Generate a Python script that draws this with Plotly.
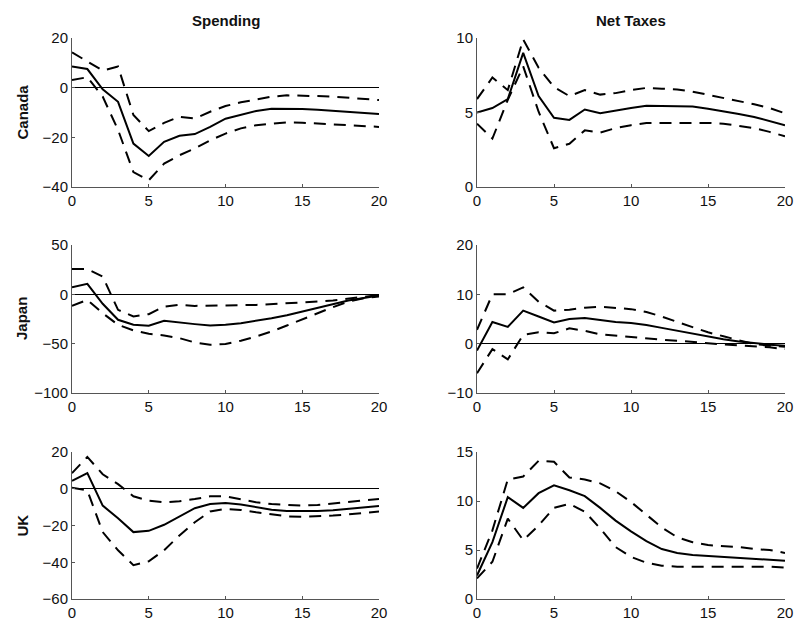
import plotly.graph_objects as go

W, H = 795, 621
horizon = list(range(21))

# Canada - Spending
ca_sp_mid = [8.5, 7.5, -0.7, -5.7, -22.5, -27.5, -21.8, -19.4, -18.7, -15.8, -12.5, -10.8, -9.4, -8.5, -8.4, -8.6, -8.9, -9.3, -9.8, -10.4, -10.6]
ca_sp_up = [14.2, 10.5, 6.9, 8.5, -11.0, -17.5, -14.2, -11.7, -12.4, -9.7, -7.4, -5.9, -4.7, -3.6, -3.1, -3.1, -3.4, -3.6, -4.0, -4.4, -5.0]
ca_sp_lo = [3.1, 4.2, -3.6, -17.0, -34.0, -37.3, -30.6, -27.2, -24.5, -21.2, -18.5, -16.4, -15.1, -14.4, -14.0, -14.1, -14.4, -14.8, -15.2, -15.5, -15.8]
# Canada - Net Taxes
ca_tx_mid = [5.0, 5.3, 5.9, 9.0, 6.1, 4.65, 4.5, 5.2, 4.95, 5.1, 5.3, 5.45, 5.45, 5.45, 5.4, 5.25, 5.1, 4.9, 4.7, 4.45, 4.15]
ca_tx_up = [5.9, 7.35, 6.5, 9.9, 8.0, 6.7, 6.1, 6.5, 6.2, 6.3, 6.5, 6.65, 6.6, 6.55, 6.4, 6.2, 6.0, 5.8, 5.55, 5.3, 4.95]
ca_tx_lo = [4.25, 3.25, 5.85, 8.1, 5.05, 2.6, 2.9, 3.8, 3.65, 3.95, 4.15, 4.3, 4.3, 4.3, 4.35, 4.3, 4.25, 4.1, 3.95, 3.7, 3.4]
# Japan - Spending
jp_sp_mid = [7.2, 10.6, -9.6, -25.8, -30.9, -31.9, -26.9, -28.2, -30.2, -31.6, -30.9, -29.2, -26.9, -24.2, -21.1, -17.4, -13.7, -9.7, -6.3, -3.6, -1.2]
jp_sp_up = [25.7, 25.7, 18.0, -15.7, -22.4, -20.1, -12.4, -10.7, -11.7, -11.7, -11.4, -11.0, -10.7, -10.0, -9.3, -8.3, -7.3, -6.3, -4.6, -2.3, -0.6]
jp_sp_lo = [-11.7, -5.6, -19.1, -30.9, -36.6, -40.0, -41.7, -44.4, -48.8, -51.1, -50.4, -47.0, -42.7, -37.6, -31.6, -25.2, -19.1, -13.0, -7.3, -3.9, -2.3]
# Japan - Net Taxes
jp_tx_mid = [-1.4, 4.4, 3.4, 6.7, 5.5, 4.3, 5.0, 5.2, 4.8, 4.4, 4.2, 3.8, 3.2, 2.6, 2.0, 1.4, 0.9, 0.45, 0.05, -0.2, -0.4]
jp_tx_up = [2.8, 10.0, 10.0, 11.4, 8.5, 6.7, 6.9, 7.3, 7.5, 7.3, 7.0, 6.4, 5.5, 4.4, 3.4, 2.3, 1.5, 0.65, -0.1, -0.4, -0.6]
jp_tx_lo = [-6.0, -1.1, -3.2, 1.8, 2.3, 2.1, 3.1, 2.6, 1.9, 1.6, 1.3, 1.05, 0.8, 0.6, 0.4, 0.1, -0.15, -0.35, -0.55, -0.75, -1.1]
# UK - Spending
uk_sp_mid = [4.3, 8.5, -9.2, -16.0, -23.6, -22.9, -19.6, -15.1, -10.6, -8.3, -7.7, -8.6, -10.1, -11.4, -12.1, -12.3, -12.1, -11.7, -11.0, -10.3, -9.4]
uk_sp_up = [8.5, 17.3, 7.9, 2.5, -4.1, -6.5, -7.4, -6.8, -5.6, -4.1, -4.1, -5.6, -7.4, -8.3, -8.8, -9.2, -8.8, -8.1, -7.2, -6.3, -5.6]
uk_sp_lo = [0.5, -0.9, -23.6, -33.5, -41.6, -39.5, -33.5, -25.4, -18.2, -12.4, -11.0, -11.5, -12.8, -14.0, -15.0, -15.3, -15.1, -14.6, -13.9, -13.2, -12.4]
# UK - Net Taxes
uk_tx_mid = [2.4, 5.8, 10.4, 9.3, 10.8, 11.6, 11.1, 10.5, 9.3, 8.0, 6.9, 5.9, 5.1, 4.7, 4.5, 4.4, 4.3, 4.2, 4.1, 4.05, 3.9]
uk_tx_up = [3.1, 7.0, 12.2, 12.5, 14.1, 14.0, 12.4, 12.2, 11.8, 11.0, 9.9, 8.6, 7.3, 6.3, 5.8, 5.5, 5.4, 5.3, 5.1, 5.0, 4.7]
uk_tx_lo = [2.1, 3.8, 8.2, 6.0, 7.5, 9.3, 9.7, 8.9, 7.2, 5.3, 4.3, 3.7, 3.4, 3.3, 3.3, 3.3, 3.3, 3.3, 3.3, 3.3, 3.2]

col_titles = ["Spending", "Net Taxes"]
row_titles = ["Canada", "Japan", "UK"]
x_ticks = [0, 5, 10, 15, 20]

panels = [
    [(ca_sp_mid, ca_sp_up, ca_sp_lo, [-40, 20], [-40, -20, 0, 20]),
     (ca_tx_mid, ca_tx_up, ca_tx_lo, [0, 10], [0, 5, 10])],
    [(jp_sp_mid, jp_sp_up, jp_sp_lo, [-100, 50], [-100, -50, 0, 50]),
     (jp_tx_mid, jp_tx_up, jp_tx_lo, [-10, 20], [-10, 0, 10, 20])],
    [(uk_sp_mid, uk_sp_up, uk_sp_lo, [-60, 20], [-60, -40, -20, 0, 20]),
     (uk_tx_mid, uk_tx_up, uk_tx_lo, [0, 15], [0, 5, 10, 15])],
]

col_px = [(72, 379), (477, 785)]
row_px = [(38, 187), (245, 393), (452, 599)]

fig = go.Figure()
layout = dict(
    width=W, height=H,
    margin=dict(l=0, r=0, t=0, b=0, pad=0, autoexpand=False),
    paper_bgcolor="white", plot_bgcolor="white",
    showlegend=False,
    font=dict(family="Liberation Sans, Arial, sans-serif", size=15, color="#111"),
)
annotations = []

idx = 0
for r in range(3):
    for c in range(2):
        idx += 1
        mid, up, lo, yr, yt = panels[r][c]
        xa = "x" if idx == 1 else f"x{idx}"
        ya = "y" if idx == 1 else f"y{idx}"
        xk = "xaxis" if idx == 1 else f"xaxis{idx}"
        yk = "yaxis" if idx == 1 else f"yaxis{idx}"
        x0, x1 = col_px[c]
        y0, y1 = row_px[r]
        layout[xk] = dict(
            domain=[x0 / W, x1 / W], anchor=ya, range=[0, 20],
            tickvals=x_ticks, ticks="inside", ticklen=3, tickcolor="#555",
            showline=True, linecolor="#555", linewidth=1, mirror=False,
            showgrid=False, zeroline=False, automargin=False,
            tickfont=dict(size=15, color="#111"),
        )
        layout[yk] = dict(
            domain=[1 - y1 / H, 1 - y0 / H], anchor=xa, range=yr,
            tickvals=yt, ticks="inside", ticklen=3, tickcolor="#555",
            showline=True, linecolor="#555", linewidth=1, mirror=False,
            showgrid=False, zeroline=True, zerolinecolor="black", zerolinewidth=1,
            automargin=False,
            tickfont=dict(size=15, color="#111"),
        )
        for series, dash in ((up, "12px,8px"), (lo, "12px,8px"), (mid, "solid")):
            fig.add_trace(go.Scatter(
                x=horizon, y=series, mode="lines", xaxis=xa, yaxis=ya,
                line=dict(color="black", width=2, dash=dash),
                hoverinfo="skip", cliponaxis=False,
            ))

for c, t in enumerate(col_titles):
    x0, x1 = col_px[c]
    annotations.append(dict(
        text=f"<b>{t}</b>", x=(x0 + x1) / 2 / W, y=1 - 20 / H,
        xref="paper", yref="paper", showarrow=False,
        font=dict(size=15, color="#111"), xanchor="center", yanchor="middle",
    ))
for r, t in enumerate(row_titles):
    y0, y1 = row_px[r]
    annotations.append(dict(
        text=f"<b>{t}</b>", x=22 / W, y=1 - (y0 + y1) / 2 / H,
        xref="paper", yref="paper", showarrow=False, textangle=-90,
        font=dict(size=15, color="#111"), xanchor="center", yanchor="middle",
    ))

layout["annotations"] = annotations
fig.update_layout(**layout)
fig.write_html(
    "out.html",
    config={"displayModeBar": False},
    post_script="document.body.style.margin='0px'; document.body.style.overflow='hidden';",
)
